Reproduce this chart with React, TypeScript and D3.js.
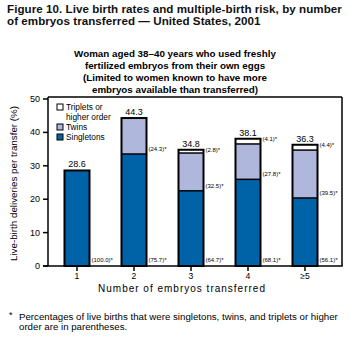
import React from "react";
import * as d3 from "d3";

const categories = ["1", "2", "3", "4", "≥5"];
const totals = [28.6, 44.3, 34.8, 38.1, 36.3];
const singletonPct = [100.0, 75.7, 64.7, 68.1, 56.1];
const twinPct = [null, 24.3, 32.5, 27.8, 39.5];
const tripletPct = [null, null, 2.8, 4.1, 4.4];
const yTicks = [0, 10, 20, 30, 40, 50];

const titleLines = [
  "Figure 10. Live birth rates and multiple-birth risk, by number",
  "of embryos transferred — United States, 2001",
];
const subtitleLines = [
  "Woman aged 38–40 years who used freshly",
  "fertilized embryos from their own eggs",
  "(Limited to women known to have more",
  "embryos available than transferred)",
];
const footLines = [
  "Percentages of live births that were singletons, twins, and triplets or higher",
  "order are in parentheses.",
];

const COL_SING = "#0063a8";
const COL_TWIN = "#afb8dc";
const COL_TRIP = "#ffffff";
const FONT = "'Liberation Sans', Arial, sans-serif";

export default function App() {
  const W = 351, H = 339;
  const left = 48, right = 342, top = 97, bottom = 266;
  const x = d3.scaleBand<string>().domain(categories).range([48.5, 333.5]).paddingInner(0).paddingOuter(0);
  const barW = 25;
  const y = d3.scaleLinear().domain([0, 50]).range([bottom, top + 2]);

  const fmt = (v: number) => `(${v.toFixed(1)})`;

  return (
    <svg width={W} height={H} style={{ position: "absolute", left: 0, top: 0, background: "#fff" }} fontFamily={FONT}>
      <rect x={0} y={0} width={W} height={H} fill="#fff" />
      {titleLines.map((t, i) => (
        <text key={i} x={7} y={12.5 + i * 12.8} fontSize={11.6} letterSpacing={0.05} fontWeight="bold" fill="#111">{t}</text>
      ))}
      {subtitleLines.map((t, i) => (
        <text key={i} x={175} y={57 + i * 12} fontSize={9.8} fontWeight="bold" textAnchor="middle" fill="#000">{t}</text>
      ))}

      {/* frame */}
      <line x1={left} x2={left} y1={top} y2={bottom} stroke="#000" strokeWidth={1.5} />
      <line x1={left} x2={right} y1={top} y2={top} stroke="#000" strokeWidth={1.5} />
      <line x1={right} x2={right} y1={top} y2={bottom} stroke="#000" strokeWidth={1.5} />

      {/* y ticks */}
      {yTicks.map((t) => (
        <g key={t}>
          <line x1={left - 5} x2={left} y1={y(t)} y2={y(t)} stroke="#000" strokeWidth={1.5} />
          <text x={left - 8} y={y(t) + 3} fontSize={9} textAnchor="end" fill="#000">{t}</text>
        </g>
      ))}
      <text transform={`translate(17,${(top + bottom) / 2 + 2}) rotate(-90)`} fontSize={9.8} textAnchor="middle" fill="#000">
        Live-birth deliveries per transfer (%)
      </text>

      {/* bars */}
      {categories.map((c, i) => {
        const cx = (x(c) as number) + x.bandwidth() / 2;
        const x0 = cx - barW / 2;
        const tot = totals[i];
        const sVal = (tot * singletonPct[i]) / 100;
        const tVal = twinPct[i] != null ? (tot * (twinPct[i] as number)) / 100 : 0;
        const trVal = tot - sVal - tVal;
        const ySing = y(sVal);
        const yTwin = y(sVal + tVal);
        const yTop = y(tot);
        return (
          <g key={c}>
            <rect x={x0} y={ySing} width={barW} height={bottom - ySing} fill={COL_SING} />
            {tVal > 0 && <rect x={x0} y={yTwin} width={barW} height={ySing - yTwin} fill={COL_TWIN} />}
            {tripletPct[i] != null && trVal > 0 && (
              <rect x={x0} y={yTop} width={barW} height={yTwin - yTop} fill={COL_TRIP} />
            )}
            {tVal > 0 && <line x1={x0} x2={x0 + barW} y1={ySing} y2={ySing} stroke="#000" strokeWidth={1.5} />}
            {tripletPct[i] != null && <line x1={x0} x2={x0 + barW} y1={yTwin} y2={yTwin} stroke="#000" strokeWidth={1.5} />}
            <rect x={x0} y={yTop} width={barW} height={bottom - yTop} fill="none" stroke="#000" strokeWidth={2} />
            <text x={cx} y={yTop - 3} fontSize={9} textAnchor="middle" fill="#000">{tot.toFixed(1)}</text>
            <text x={x0 + barW + 2} y={bottom - 4} fontSize={6} fill="#000">{fmt(singletonPct[i])}*</text>
            {twinPct[i] != null && (
              <text x={x0 + barW + 2} y={ySing - 3} fontSize={6} fill="#000">{fmt(twinPct[i] as number)}*</text>
            )}
            {tripletPct[i] != null && (
              <text x={x0 + barW + 2} y={yTop + 2} fontSize={6} fill="#000">{fmt(tripletPct[i] as number)}*</text>
            )}
            <line x1={cx} x2={cx} y1={bottom} y2={bottom + 5} stroke="#000" strokeWidth={1.5} />
            <text x={cx} y={bottom + 13} fontSize={8.6} textAnchor="middle" fill="#000">{c}</text>
          </g>
        );
      })}
      <line x1={left - 5} x2={right + 0.75} y1={bottom} y2={bottom} stroke="#000" strokeWidth={1.5} />

      {/* legend */}
      {[
        { lab: ["Triplets or", "higher order"], col: COL_TRIP, yy: 107 },
        { lab: ["Twins"], col: COL_TWIN, yy: 127 },
        { lab: ["Singletons"], col: COL_SING, yy: 137 },
      ].map((d, i) => (
        <g key={i}>
          <rect x={57} y={d.yy - 3} width={6} height={6} fill={d.col} stroke="#000" strokeWidth={1} />
          {d.lab.map((l, j) => (
            <text key={j} x={66} y={d.yy + 3 + j * 10} fontSize={8.3} fill="#000">{l}</text>
          ))}
        </g>
      ))}

      <text x={182} y={292} fontSize={10} letterSpacing={1} textAnchor="middle" fill="#000">Number of embryos transferred</text>

      <text x={9} y={318} fontSize={9} fill="#000">*</text>
      {footLines.map((t, i) => (
        <text key={i} x={19} y={320 + i * 10} fontSize={9.7} fill="#000">{t}</text>
      ))}
    </svg>
  );
}
